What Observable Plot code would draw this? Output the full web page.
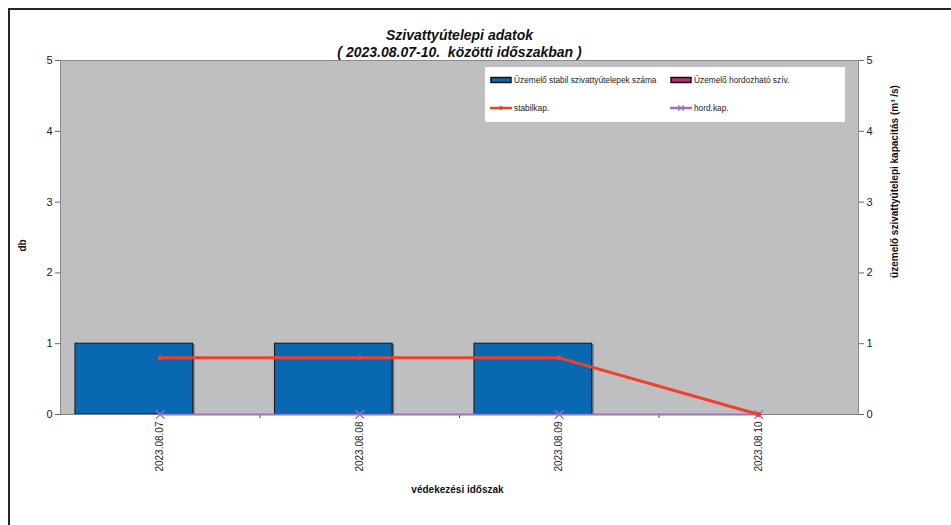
<!DOCTYPE html>
<html>
<head>
<meta charset="utf-8">
<script src="https://cdn.jsdelivr.net/npm/d3@7"></script>
<script src="https://cdn.jsdelivr.net/npm/@observablehq/plot@0.6"></script>
<style>
  html, body { margin: 0; padding: 0; background: #fff; overflow: hidden; }
  #wrap { position: relative; width: 951px; height: 525px; overflow: hidden; font-family: Arial, "Liberation Sans", sans-serif; }
  #border { position: absolute; left: 8px; top: 8px; width: 1000px; height: 600px; border: 2px solid #262626; box-sizing: border-box; }
  #chart { position: absolute; left: 0; top: 0; }
  #legend { position: absolute; left: 485px; top: 67px; width: 360px; height: 55px; background: #fff; font-size: 8.3px; color: #222; }
  .item { position: absolute; display: flex; align-items: center; height: 12px; }
  .item svg { margin-right: 2px; }
</style>
</head>
<body>
<div id="wrap">
  <div id="border"></div>
  <div id="chart"></div>
  <div id="legend"></div>
</div>
<script>
// ---- data ----
const dates = ["2023.08.07", "2023.08.08", "2023.08.09", "2023.08.10"];
const stabilCount = [1, 1, 1, 0];       // Üzemelő stabil szivattyútelepek száma (db)
const hordCount = [0, 0, 0, 0];         // Üzemelő hordozható szív. (db)
const stabilKap = [0.8, 0.8, 0.8, 0];   // stabilkap. (m³/s)
const hordKap = [0, 0, 0, 0];           // hord.kap. (m³/s)
const yTicks = [0, 1, 2, 3, 4, 5];
const seriesNames = ["Üzemelő stabil szivattyútelepek száma", "Üzemelő hordozható szív.", "stabilkap.", "hord.kap."];

// ---- layout constants ----
const barStart = 0.075, barEnd = 0.665;
const C = { blue: "#0868b2", magenta: "#b5306a", red: "#f0402a", purple: "#9b72cb", gray: "#bfbfc1" };

const idx = dates.map((d, i) => i);
const bars = idx.map(i => ({ i, v: stabilCount[i] }));
const bars2 = idx.map(i => ({ i, v: hordCount[i] }));
const line1 = idx.map(i => ({ i, v: stabilKap[i] }));
const line2 = idx.map(i => ({ i, v: hordKap[i] }));

const font = "Arial, 'Liberation Sans', sans-serif";
const intFmt = d3.format("d");

const plot = Plot.plot({
  width: 951,
  height: 525,
  marginLeft: 60,
  marginRight: 93,
  marginTop: 60,
  marginBottom: 111,
  style: { background: "transparent", fontFamily: font, fontSize: "11px", color: "#222", overflow: "visible" },
  x: { type: "linear", domain: [-0.5, dates.length - 0.5] },
  y: { domain: [0, 5] },
  marks: [
    Plot.frame({ fill: C.gray, stroke: "#8a8a8a" }),
    // bar shadow
    Plot.rectY(bars, { x1: d => d.i - 0.5 + barStart, x2: d => d.i - 0.5 + barEnd, y1: 0, y2: "v", fill: "#3a3a3a", fillOpacity: 0.55, dx: 2, dy: 1, filter: d => d.v > 0 }),
    Plot.rectY(bars, { x1: d => d.i - 0.5 + barStart, x2: d => d.i - 0.5 + barEnd, y1: 0, y2: "v", fill: C.blue, stroke: "#151515", strokeWidth: 1, filter: d => d.v > 0 }),
    Plot.rectY(bars2, { x1: d => d.i - 0.5 + barEnd, x2: d => d.i - 0.5 + barEnd + 0.2, y1: 0, y2: "v", fill: C.magenta, filter: d => d.v > 0 }),
    Plot.axisY({ anchor: "left", ticks: yTicks, tickFormat: intFmt, tickSize: 5, tickPadding: 3, label: null, fontSize: 11, stroke: "#666" }),
    Plot.axisY({ anchor: "right", ticks: yTicks, tickFormat: intFmt, tickSize: 5, tickPadding: 3, label: null, fontSize: 11, stroke: "#666" }),
    Plot.axisX({ ticks: idx, tickFormat: i => dates[i], tickRotate: -90, tickSize: 0, tickPadding: 7, label: null, fontSize: 10 }),
    Plot.axisX({ ticks: idx.slice(1).map(i => i - 0.5), tickFormat: () => "", tickSize: 4, label: null, stroke: "#444" }),
    Plot.ruleY([0], { stroke: "#808080" }),
    // hord.kap line
    Plot.line(line2, { x: "i", y: "v", stroke: C.purple, strokeWidth: 2 }),
    Plot.dot(line2, { x: "i", y: "v", symbol: "times", r: 4, stroke: C.purple, strokeWidth: 1.3 }),
    // stabilkap line
    Plot.line(line1, { x: "i", y: "v", stroke: C.red, strokeWidth: 3 }),
    Plot.dot(line1, { x: "i", y: "v", r: 2.5, fill: C.red }),
    // titles
    Plot.text(["Szivattyútelepi adatok"], { frameAnchor: "top", dy: -30, fontSize: 14, fontWeight: "bold", fontStyle: "italic", fill: "#111" }),
    Plot.text(["( 2023.08.07-10.  közötti időszakban )"], { frameAnchor: "top", dy: -13, fontSize: 14, fontWeight: "bold", fontStyle: "italic", fill: "#111" }),
    Plot.text(["db"], { frameAnchor: "left", dx: -38, dy: 14, rotate: -90, fontSize: 10, fontWeight: "bold", fill: "#111" }),
    Plot.text(["üzemelő szivattyútelepi kapacitás (m³ /s)"], { frameAnchor: "top-right", dx: 32, dy: 121, rotate: -90, fontSize: 10, fontWeight: "bold", fill: "#111", textAnchor: "middle" }),
    Plot.text(["védekezési időszak"], { frameAnchor: "bottom", dx: -2, dy: 78, fontSize: 10, fontWeight: "bold", fill: "#111" })
  ]
});
document.getElementById("chart").appendChild(plot);

// ---- legend ----
const legend = document.getElementById("legend");
function rectSwatch(color) {
  return `<svg width="22" height="8"><rect x="1" y="1.5" width="20" height="5" fill="${color}" stroke="#111" stroke-width="1.5"/></svg>`;
}
function lineSwatch(color, marker) {
  const m = marker === "dot"
    ? `<circle cx="11" cy="4" r="2" fill="${color}"/>`
    : `<path d="M8,1.5L14,6.5M14,1.5L8,6.5" stroke="${color}" stroke-width="1.2"/>`;
  return `<svg width="22" height="8"><line x1="0" y1="4" x2="22" y2="4" stroke="${color}" stroke-width="2.5"/>${m}</svg>`;
}
const items = [
  { left: 5, top: 7, sw: rectSwatch(C.blue), label: seriesNames[0] },
  { left: 185, top: 7, sw: rectSwatch(C.magenta), label: seriesNames[1] },
  { left: 5, top: 35, sw: lineSwatch(C.red, "dot"), label: seriesNames[2] },
  { left: 185, top: 35, sw: lineSwatch(C.purple, "x"), label: seriesNames[3] }
];
for (const it of items) {
  const d = document.createElement("div");
  d.className = "item";
  d.style.left = it.left + "px";
  d.style.top = it.top + "px";
  d.innerHTML = it.sw + `<span>${it.label}</span>`;
  legend.appendChild(d);
}
</script>
</body>
</html>
